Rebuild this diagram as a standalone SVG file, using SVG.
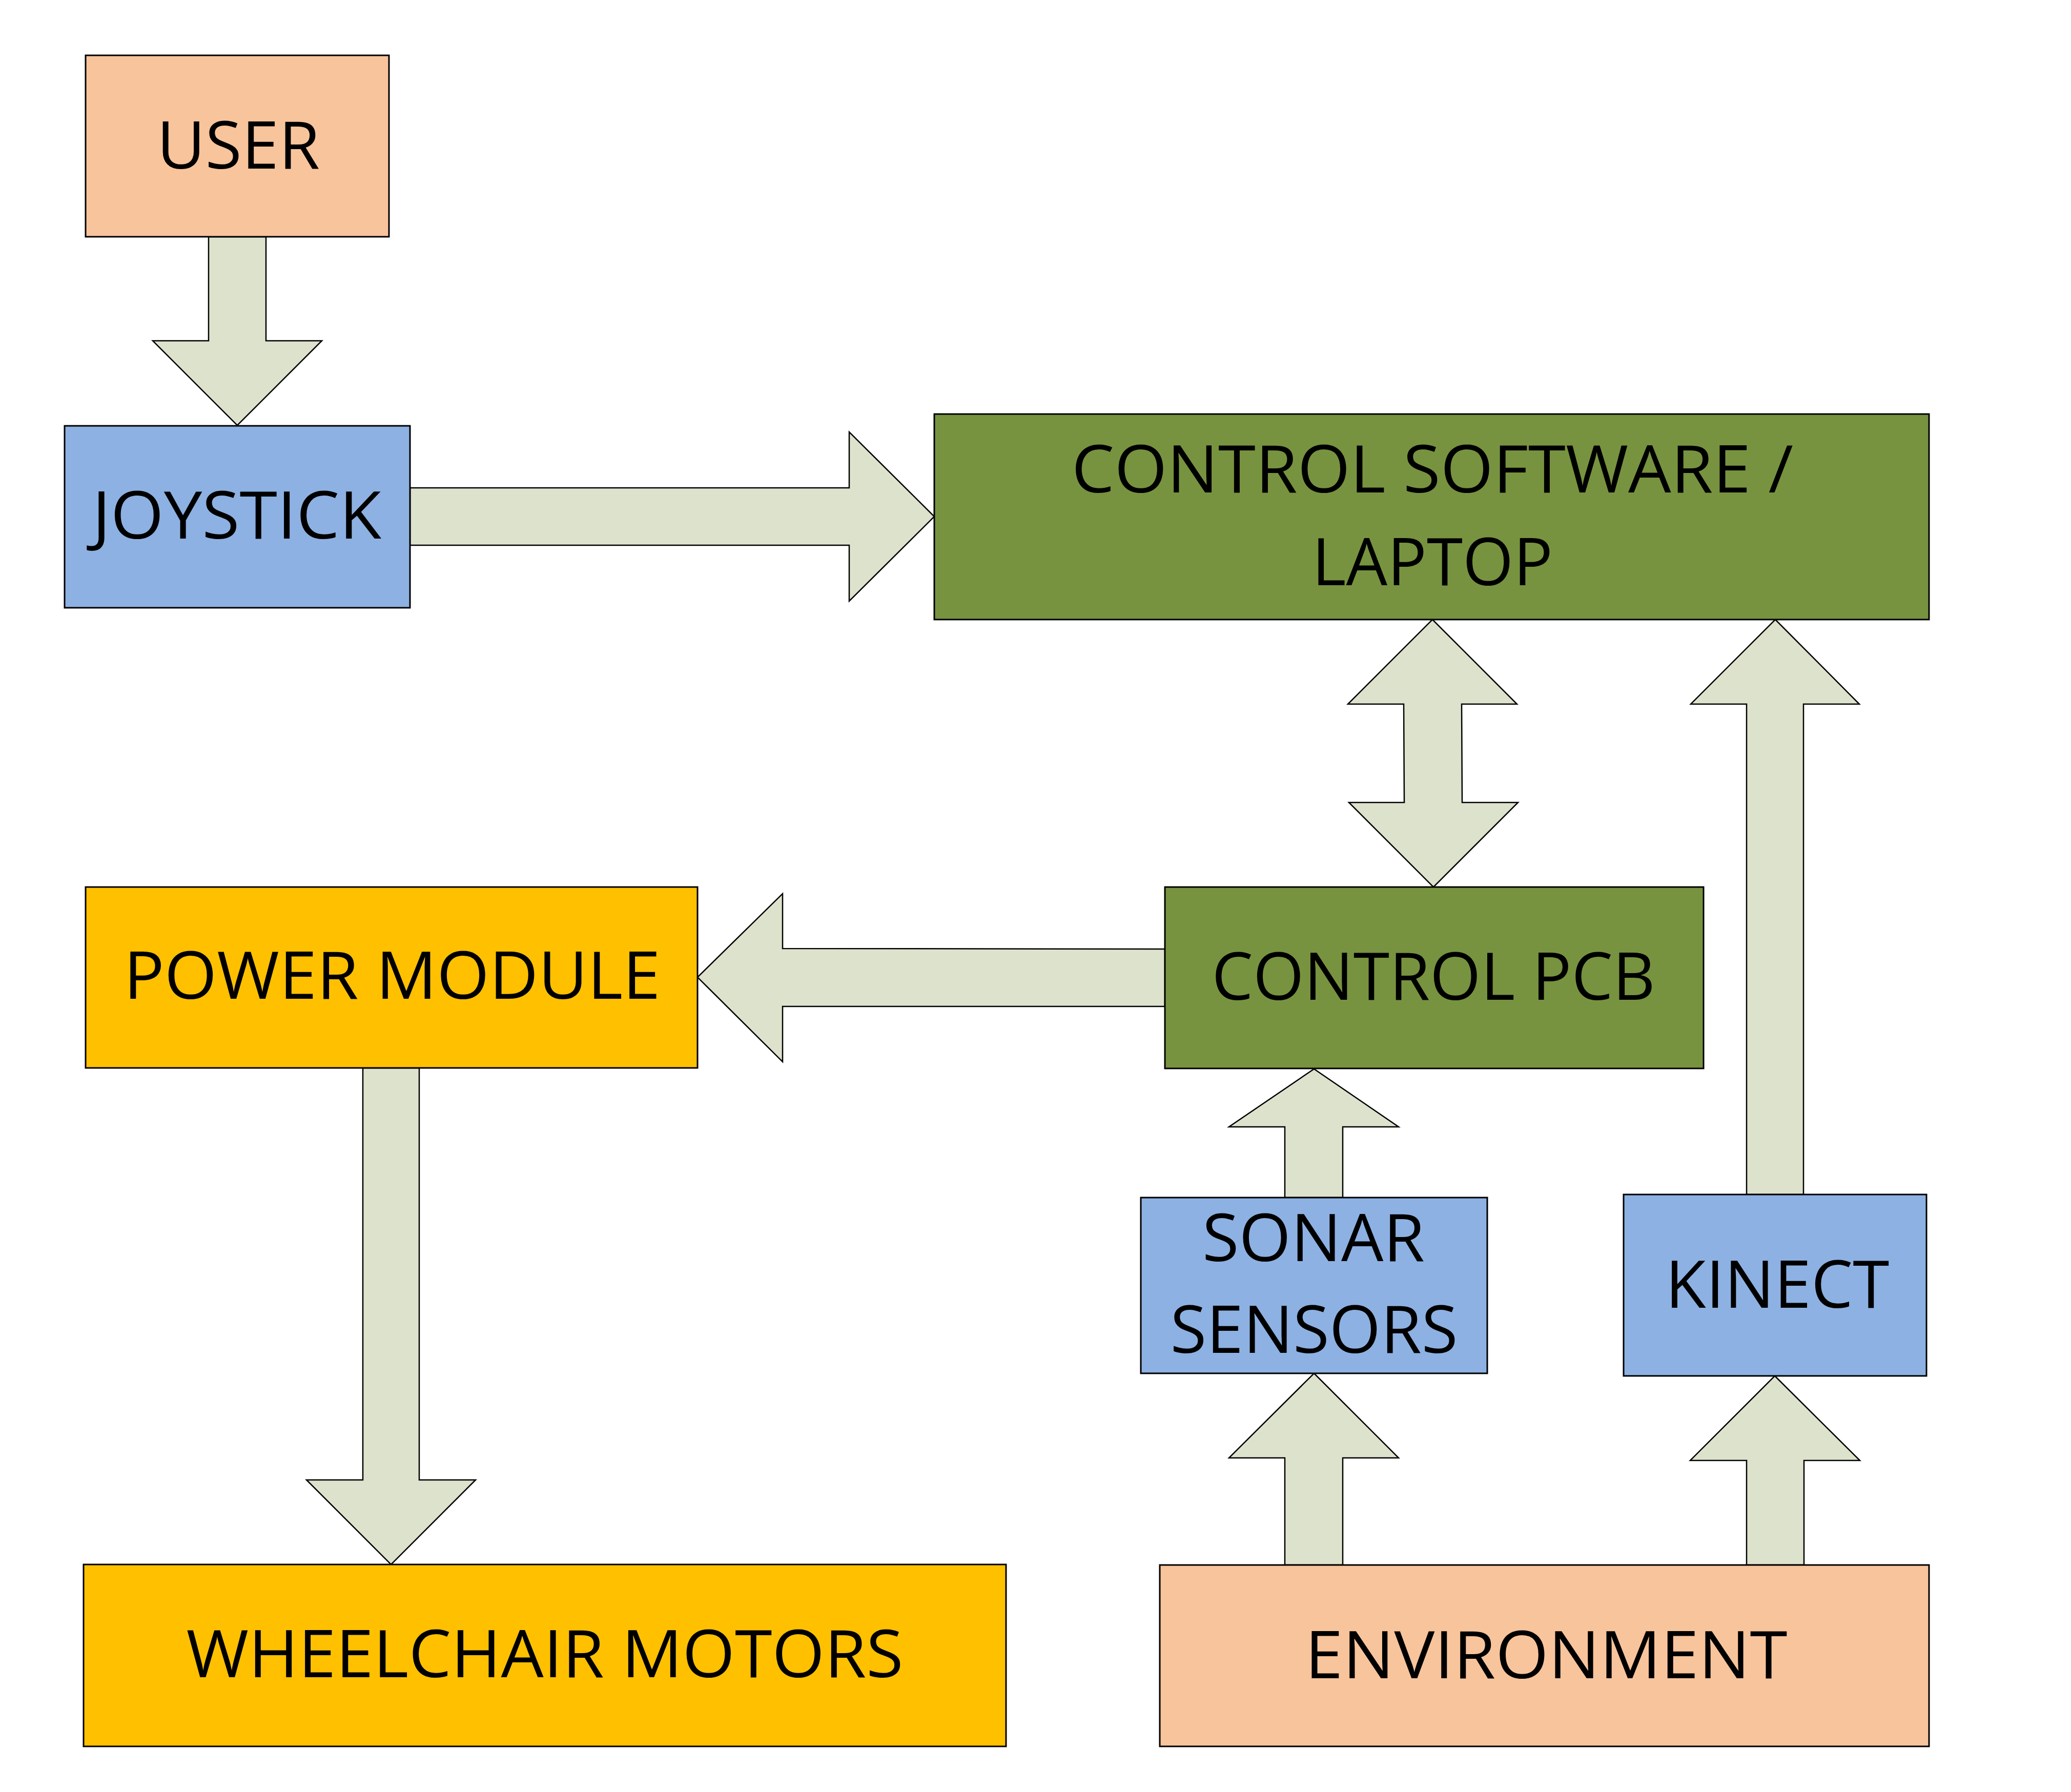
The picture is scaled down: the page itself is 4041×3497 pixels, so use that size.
<svg xmlns="http://www.w3.org/2000/svg" width="4041" height="3497" viewBox="0 0 4041 3497">
<style>
.box{stroke:#000;stroke-width:3}
.peach{fill:#F8C49C}
.blue{fill:#8DB1E2}
.green{fill:#77933F}
.amber{fill:#FFC000}
.arrow{fill:#DDE2CC;stroke:#000;stroke-width:2.5;stroke-linejoin:miter}
.lbl{font-family:"Open Sans","Liberation Sans",sans-serif;font-size:128px;fill:#000;text-anchor:middle}
</style>
<rect width="4041" height="3497" fill="#fff"/>
<g id="connectors">
<polygon class="arrow" points="407,462 519,462 519,665 628,665 463,830 298,665 407,665"/>
<polygon class="arrow" points="800,952 1657,952 1657,843 1823,1008 1657,1173 1657,1064 800,1064"/>
<polygon class="arrow" points="2795,1209 2960,1374 2852,1374 2853,1566 2962,1566 2797,1731 2632,1566 2740,1566 2739,1374 2630,1374"/>
<polygon class="arrow" points="3464,1209 3628,1374 3519,1374 3519,2331 3408,2331 3408,1374 3299,1374"/>
<polygon class="arrow" points="2273,1852 1527,1851 1527,1744 1361,1907 1527,2072 1527,1964 2273,1964"/>
<polygon class="arrow" points="708,2084 818,2084 818,2888 928,2888 763,3053 598,2888 708,2888"/>
<polygon class="arrow" points="2564,2086 2729,2199 2620,2199 2620,2337 2507,2337 2507,2199 2398,2199"/>
<polygon class="arrow" points="2564,2680 2729,2845 2620,2845 2620,3054 2507,3054 2507,2845 2398,2845"/>
<polygon class="arrow" points="3463,2685 3629,2850 3520,2850 3520,3054 3408,3054 3408,2850 3298,2850"/>
</g>
<g id="user">
<rect class="box peach" x="167" y="108" width="592" height="354"/>
<text class="lbl" x="465" y="329" textLength="318" lengthAdjust="spacingAndGlyphs">USER</text>
</g>
<g id="joystick">
<rect class="box blue" x="126" y="831" width="674" height="355"/>
<text class="lbl" x="462" y="1051" textLength="564" lengthAdjust="spacingAndGlyphs">JOYSTICK</text>
</g>
<g id="control-software">
<rect class="box green" x="1823" y="808" width="1941" height="401"/>
<text class="lbl" x="2795" y="961" textLength="1408" lengthAdjust="spacingAndGlyphs">CONTROL SOFTWARE /</text>
<text class="lbl" x="2795" y="1142" textLength="470" lengthAdjust="spacingAndGlyphs">LAPTOP</text>
</g>
<g id="control-pcb">
<rect class="box green" x="2273" y="1731" width="1051" height="354"/>
<text class="lbl" x="2797" y="1951" textLength="865" lengthAdjust="spacingAndGlyphs">CONTROL PCB</text>
</g>
<g id="power-module">
<rect class="box amber" x="167" y="1731" width="1194" height="353"/>
<text class="lbl" x="765" y="1949" textLength="1047" lengthAdjust="spacingAndGlyphs">POWER MODULE</text>
</g>
<g id="wheelchair-motors">
<rect class="box amber" x="163" y="3053" width="1800" height="355"/>
<text class="lbl" x="1063" y="3273" textLength="1399" lengthAdjust="spacingAndGlyphs">WHEELCHAIR MOTORS</text>
</g>
<g id="sonar-sensors">
<rect class="box blue" x="2226" y="2337" width="676" height="343"/>
<text class="lbl" x="2563" y="2461" textLength="434" lengthAdjust="spacingAndGlyphs">SONAR</text>
<text class="lbl" x="2564" y="2640" textLength="561" lengthAdjust="spacingAndGlyphs">SENSORS</text>
</g>
<g id="kinect">
<rect class="box blue" x="3168" y="2331" width="591" height="354"/>
<text class="lbl" x="3468" y="2552" textLength="437" lengthAdjust="spacingAndGlyphs">KINECT</text>
</g>
<g id="environment">
<rect class="box peach" x="2263" y="3054" width="1501" height="354"/>
<text class="lbl" x="3017" y="3275" textLength="941" lengthAdjust="spacingAndGlyphs">ENVIRONMENT</text>
</g>
</svg>
